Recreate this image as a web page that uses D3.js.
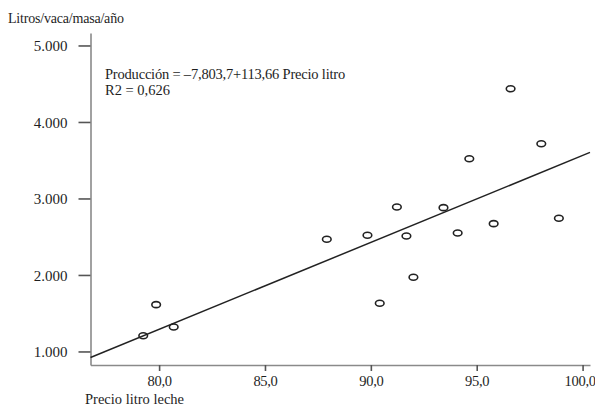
<!DOCTYPE html>
<html>
<head>
<meta charset="utf-8">
<script src="https://cdn.jsdelivr.net/npm/d3@7"></script>
<style>
  html, body { margin: 0; padding: 0; background: #fff; }
  svg { display: block; }
  text { font-family: "Liberation Serif", "Times New Roman", serif; fill: #1e1e1e; }
</style>
</head>
<body>
<svg id="chart" width="595" height="408"></svg>
<script>
// Precio del litro de leche vs. producción (litros/vaca/masa/año)
const precio = [79.25, 79.86, 80.69, 87.92, 89.84, 90.42, 91.23, 91.68,
                92.01, 93.43, 94.10, 94.65, 95.80, 96.60, 98.05, 98.88];
const produccion = [1206, 1612, 1320, 2467, 2519, 1630, 2889, 2510,
                    1970, 2880, 2549, 3520, 2671, 4435, 3716, 2741];

const xTicks = [80, 85, 90, 95, 100];
const yTicks = [1000, 2000, 3000, 4000, 5000];

// Recta de regresión: Producción = -7.803,7 + 113,66 · Precio litro
const intercepto = -7803.7;
const pendiente = 113.66;

const yTitle = "Litros/vaca/masa/año";
const xTitle = "Precio litro leche";
const ecuacion = "Producción = \u20137,803,7+113,66 Precio litro";
const r2 = "R2 = 0,626";

const fmtX = v => d3.format(".1f")(v).replace(".", ",");
const fmtY = v => d3.format(",")(v).replace(/,/g, ".");

const svg = d3.select("#chart");
const m = { left: 90.5, right: 590, top: 33, bottom: 365 };

const x = d3.scaleLinear().domain([76.76, 100.35]).range([m.left, m.right]);
const y = d3.scaleLinear().domain([823, 5163]).range([m.bottom, m.top]);

// Ejes
const gx = svg.append("g").attr("transform", `translate(0,${m.bottom})`)
  .call(d3.axisBottom(x).tickValues(xTicks).tickFormat(fmtX)
        .tickSizeInner(6).tickSizeOuter(0).tickPadding(5));
const gy = svg.append("g").attr("transform", `translate(${m.left},0)`)
  .call(d3.axisLeft(y).tickValues(yTicks).tickFormat(fmtY)
        .tickSizeInner(12).tickSizeOuter(0).tickPadding(11));

[gx, gy].forEach(g => {
  g.select(".domain").attr("stroke", "#8a8a8a").attr("stroke-width", 1.6);
  g.selectAll(".tick line").attr("stroke", "#555").attr("stroke-width", 1.6);
  g.selectAll(".tick text")
    .attr("font-family", "Liberation Serif, serif").attr("fill", "#1e1e1e");
});
gx.selectAll(".tick text").attr("font-size", 14.5).attr("letter-spacing", -0.3);
gy.selectAll(".tick text").attr("font-size", 15).attr("dy", "0.34em");
// la última etiqueta del eje X se recoge un poco hacia dentro
gx.selectAll(".tick text").filter(d => d === 100).attr("dx", -3);

// Recta ajustada
const [x0, x1] = x.domain();
svg.append("line")
  .attr("x1", x(x0)).attr("y1", y(intercepto + pendiente * x0))
  .attr("x2", x(x1)).attr("y2", y(intercepto + pendiente * x1))
  .attr("stroke", "#222").attr("stroke-width", 1.5);

// Puntos
svg.append("g").selectAll("ellipse")
  .data(precio.map((p, i) => [p, produccion[i]]))
  .join("ellipse")
  .attr("cx", d => x(d[0])).attr("cy", d => y(d[1]))
  .attr("rx", 4.3).attr("ry", 3)
  .attr("fill", "none").attr("stroke", "#222").attr("stroke-width", 1.6);

// Textos
svg.append("text").attr("x", 8).attr("y", 23).attr("font-size", 14)
  .attr("letter-spacing", -0.2).text(yTitle);
svg.append("text").attr("x", 85).attr("y", 404).attr("font-size", 14.5).text(xTitle);
svg.append("text").attr("x", 105).attr("y", 79).attr("font-size", 14.5)
  .attr("letter-spacing", -0.2).text(ecuacion);
svg.append("text").attr("x", 105).attr("y", 95).attr("font-size", 14.5).text(r2);
</script>
</body>
</html>
